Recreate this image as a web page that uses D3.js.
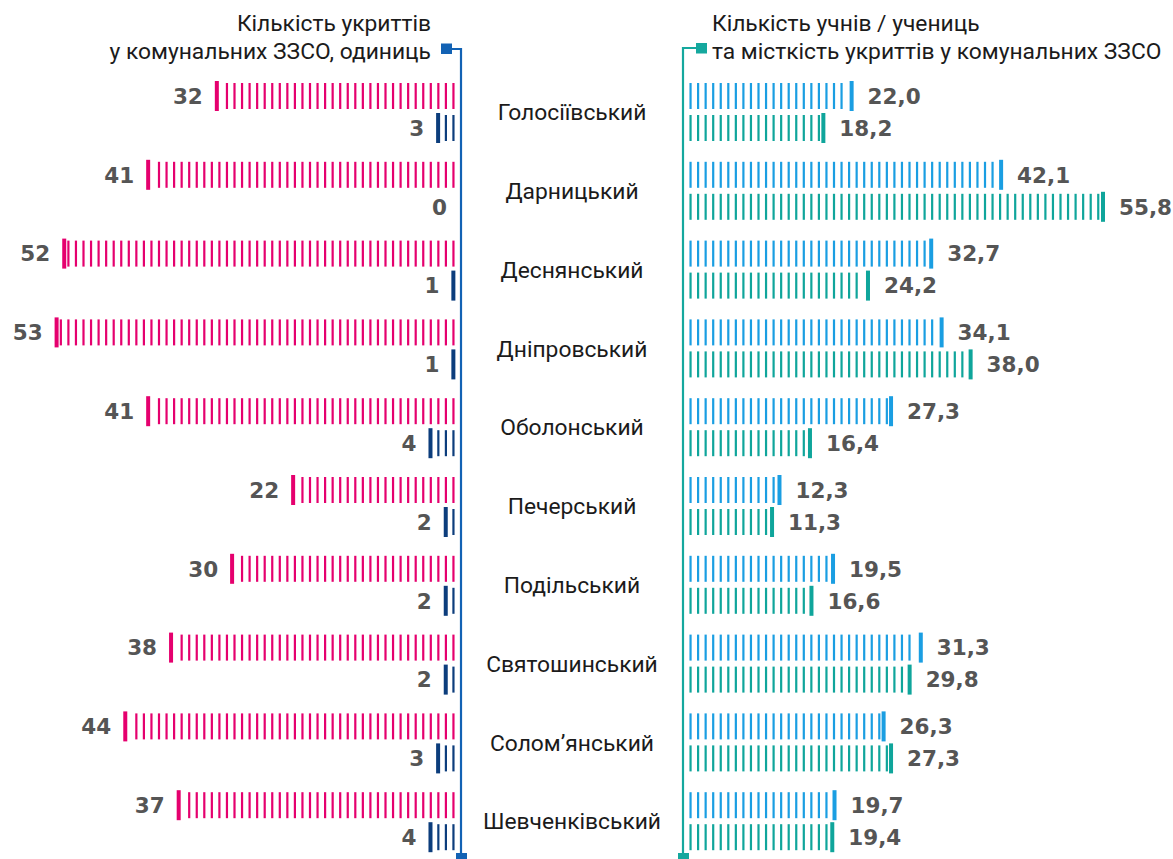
<!DOCTYPE html>
<html><head><meta charset="utf-8">
<script src="https://cdn.jsdelivr.net/npm/d3@7"></script>
<style>
html,body{margin:0;padding:0;background:#fff;}
svg{display:block;}
</style></head>
<body>
<script>
const districts = ["Голосіївський","Дарницький","Деснянський","Дніпровський","Оболонський","Печерський","Подільський","Святошинський","Соломʼянський","Шевченківський"];
const shelters = [32,41,52,53,41,22,30,38,44,37];
const sheltersOther = [3,0,1,1,4,2,2,2,3,4];
const students = [22.0,42.1,32.7,34.1,27.3,12.3,19.5,31.3,26.3,19.7];
const capacity = [18.2,55.8,24.2,38.0,16.4,11.3,16.6,29.8,27.3,19.4];
const leftTitle = ["Кількість укриттів","у комунальних ЗЗСО, одиниць"];
const rightTitle = ["Кількість учнів / учениць","та місткість укриттів у комунальних ЗЗСО"];

const W = 1173, H = 859;
const svg = d3.select("body").append("svg").attr("width", W).attr("height", H);

const y = d3.scaleBand().domain(districts).range([72.6, 860.6]);
const xL = d3.scaleLinear().domain([0, 53]).range([461, 56.6]);
const xR = d3.scaleLinear().domain([0, 55.8]).range([688, 1103]);

const C = {pink:"#e5006e", dark:"#0c3d7c", blue:"#1a9ee2", teal:"#0fa59b", axL:"#1262b4", axR:"#15a89e", num:"#555555", txt:"#1b1b1b"};
const numFont = "'DejaVu Sans', sans-serif";
const txtFont = "Roboto, 'Open Sans', sans-serif";

function stripes(g, v, scale, origin, cy, color, dir, fmt) {
  const end = scale(v);
  const len = Math.abs(end - origin);
  const step = 7.55;
  if (v > 0) {
    for (let i = 1; i * step < len - step * 0.55; i++) {
      const x = origin + dir * i * step;
      g.append("rect").attr("x", x - 1.1).attr("y", cy - 13).attr("width", 2.2).attr("height", 26).attr("fill", color);
    }
    g.append("rect").attr("x", end - 2).attr("y", cy - 15).attr("width", 4).attr("height", 30).attr("fill", color);
  }
  const lx = dir < 0 ? (v > 0 ? end - 14 : end - 14) : end + 16;
  g.append("text").attr("x", lx).attr("y", cy).attr("dy", "0.36em")
    .attr("text-anchor", dir < 0 ? "end" : "start")
    .attr("font-family", numFont).attr("font-weight", 700).attr("font-size", 21.5)
    .attr("fill", C.num).text(fmt(v));
}

const fmtInt = d => String(d);
const fmtDec = d => d.toFixed(1).replace(".", ",");

districts.forEach((d, i) => {
  const c = y(d) + y.bandwidth() / 2;
  const g = svg.append("g");
  stripes(g, shelters[i], xL, 461, c - 16, C.pink, -1, fmtInt);
  stripes(g, sheltersOther[i], xL, 461, c + 16, C.dark, -1, fmtInt);
  stripes(g, students[i], xR, 683, c - 16, C.blue, 1, fmtDec);
  stripes(g, capacity[i], xR, 683, c + 16, C.teal, 1, fmtDec);
  svg.append("text").attr("x", 572).attr("y", c).attr("dy", "0.36em").attr("text-anchor", "middle")
    .attr("font-family", txtFont).attr("font-size", 22.8).attr("fill", C.txt).text(d);
});

// axes lines
svg.append("path").attr("d", "M452,49 H461 V856").attr("fill", "none").attr("stroke", C.axL).attr("stroke-width", 2.2);
svg.append("rect").attr("x", 441).attr("y", 43.5).attr("width", 11).attr("height", 10.5).attr("fill", C.axL);
svg.append("rect").attr("x", 456).attr("y", 853).attr("width", 11).attr("height", 8).attr("fill", C.axL);

svg.append("path").attr("d", "M696,48 H683 V856").attr("fill", "none").attr("stroke", C.axR).attr("stroke-width", 2.2);
svg.append("rect").attr("x", 696).attr("y", 43).attr("width", 11).attr("height", 10.5).attr("fill", C.axR);
svg.append("rect").attr("x", 678).attr("y", 853).attr("width", 11).attr("height", 8).attr("fill", C.axR);

// titles
leftTitle.forEach((t, i) => {
  svg.append("text").attr("x", 431).attr("y", 31 + i * 28).attr("text-anchor", "end")
    .attr("font-family", txtFont).attr("font-size", 22.8).attr("fill", C.txt).text(t);
});
rightTitle.forEach((t, i) => {
  svg.append("text").attr("x", 712).attr("y", 31 + i * 28).attr("text-anchor", "start")
    .attr("font-family", txtFont).attr("font-size", 22.8).attr("fill", C.txt).text(t);
});
</script>
</body></html>
